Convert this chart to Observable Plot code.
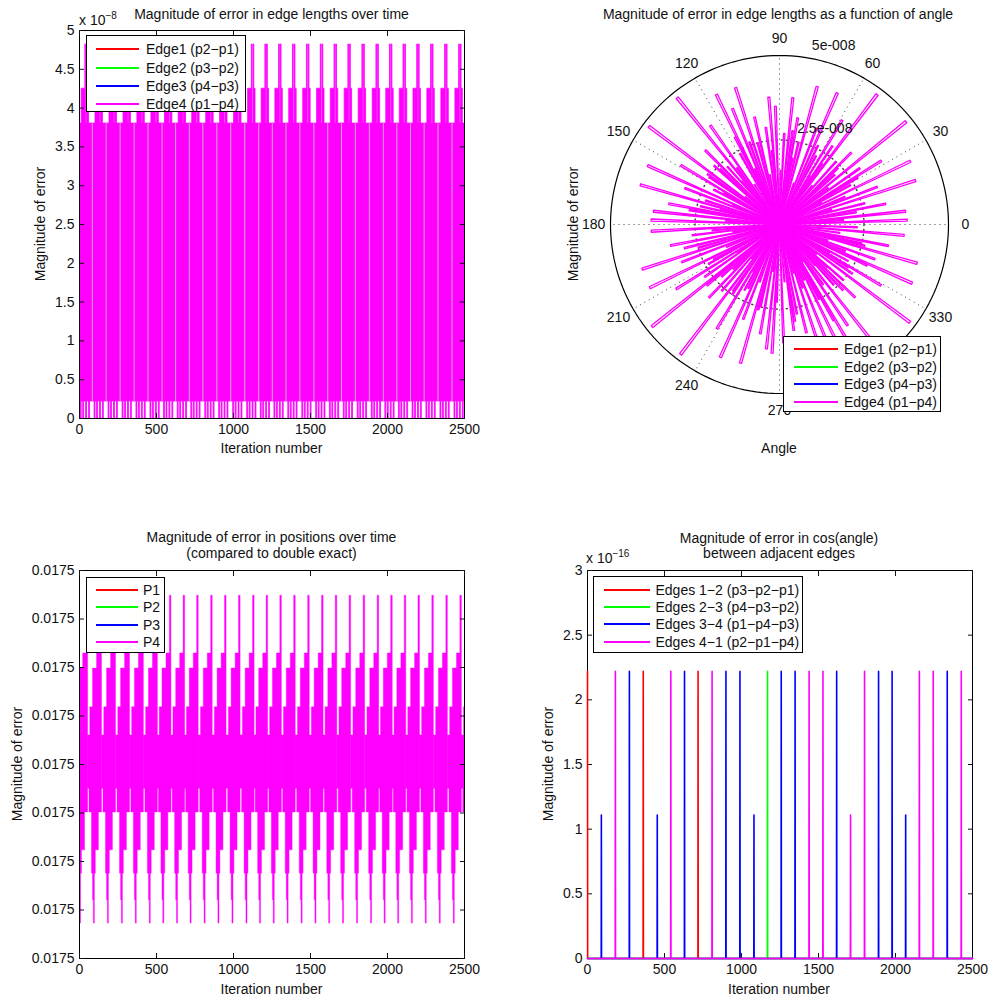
<!DOCTYPE html>
<html>
<head>
<meta charset="utf-8">
<script src="https://cdn.jsdelivr.net/npm/d3@7"></script>
<script src="https://cdn.jsdelivr.net/npm/@observablehq/plot@0.6"></script>
<style>
  body { margin: 0; background: #fff; }
  #fig { position: relative; width: 990px; height: 1000px; font-family: "Liberation Sans", Arial, Helvetica, sans-serif; color: #111; overflow: hidden; }
  .panel { position: absolute; }
  .lab { position: absolute; font-size: 14px; white-space: nowrap; line-height: 1; transform: translate(-50%, -50%); }
  .ylab { transform: translate(-50%, -50%) rotate(-90deg); }
  .abs { position: absolute; font-size: 14px; white-space: nowrap; line-height: 1; }
  .abs sup { font-size: 10px; vertical-align: 6px; }
  .legend { position: absolute; border: 1px solid #000; background: #fff; box-sizing: border-box; }
  .legend .txt { position: absolute; font-size: 14px; white-space: nowrap; line-height: 1; transform: translateY(-50%); }
  .legend .sw { position: absolute; height: 2px; }
</style>
</head>
<body>
<div id="fig"></div>
<script>
// ---------- data ----------
const xTicks = [0, 500, 1000, 1500, 2000, 2500];

// Iterations where a new quarter-turn cycle of the square begins
const cycleStart = [0, 90, 181, 272, 362, 453, 541, 630, 718, 809, 899, 990, 1081, 1169, 1258, 1348, 1439, 1529, 1618, 1708, 1799, 1890, 1978, 2066, 2155, 2245, 2336, 2427];

// Edge-length error within one cycle: offset from cycle start, lowest and highest error
const edgeCycleLength = 91;
const edgeSegStart = [0, 8, 14, 24, 30, 38, 43, 49, 54, 62, 68];
const edgeSegLow   = [0.22e-8, 0, 0.22e-8, 0, 0.22e-8, 0.22e-8, 0, 0.22e-8, 0.22e-8, 0, 0.22e-8];
const edgeSegHigh  = [3.8e-8, 3.8e-8, 4.25e-8, 4.25e-8, 4.25e-8, 4.82e-8, 3.8e-8, 4.82e-8, 4.25e-8, 3.8e-8, 3.8e-8];
const edge2ShowOffset = 83;      // where Edge2 shows through Edge4 in each cycle
const edgeYTicks = [0, 0.5, 1, 1.5, 2, 2.5, 3, 3.5, 4, 4.5, 5];   // x 1e-8

// Polar view: angle of the edge (degrees) and error magnitude at that angle
const polarAngle = [
  2, 6, 11, 14, 17.9, 21, 25.8, 29, 32, 35, 39.1, 42, 45, 48, 53.1, 56, 59, 62, 66.3, 69, 74.7, 77, 80.3, 84, 87,
  92, 94.8, 98, 103.1, 107.8, 110, 112.1, 115.9, 119, 124.9, 128.9, 132, 135, 138, 143.1, 146, 149, 152, 155.9, 159, 164.1, 167, 169.4, 174, 178,
  183, 187, 190.9, 194, 198, 201, 206, 209, 212, 215, 218.7, 222, 226, 229, 232.7, 236, 239, 242, 246, 249, 254.3, 257, 260, 264, 266.7,
  272, 277.7, 281, 284, 288, 292, 296, 299.5, 300.3, 304, 308.4, 312, 316, 319, 323.1, 326, 329, 332, 335, 336.1, 340, 344.3, 347, 349, 355,
  4, 9, 16, 23, 27, 31, 37, 44, 50, 55, 58, 64, 71, 79, 82, 89, 96, 101, 105, 114, 117, 122, 127, 131, 137, 141, 145, 151, 157, 162, 166, 171,
  176, 185, 189, 196, 203, 208, 214, 220, 224, 231, 235, 241, 244, 251, 256, 262, 268, 275, 279, 286, 290, 294, 298, 302, 306, 311, 314, 318,
  321, 328, 331, 338, 342, 346, 352, 358
];
const polarError = [
  3.78, 3.75, 3.2, 2.6, 4.23, 3.1, 4.3, 2.4, 3.55, 2.9, 4.82, 2.2, 3.0, 2.5, 4.81, 2.8, 3.6, 2.3, 4.25, 3.05, 4.23, 2.5, 3.2, 3.77, 2.7,
  3.5, 3.78, 2.9, 3.26, 4.25, 2.6, 3.7, 4.27, 2.4, 3.57, 4.82, 2.3, 3.1, 2.6, 4.83, 2.5, 3.4, 2.2, 4.27, 3.0, 4.28, 2.4, 3.33, 3.75, 3.8,
  3.8, 2.6, 3.28, 2.9, 4.27, 3.1, 4.27, 2.4, 3.6, 2.7, 4.83, 2.3, 3.0, 2.6, 4.83, 2.5, 3.6, 2.2, 4.3, 3.0, 4.26, 2.5, 3.28, 3.7, 3.81,
  3.5, 3.16, 2.7, 3.3, 4.25, 3.6, 4.27, 3.26, 3.97, 3.6, 4.82, 2.4, 3.1, 2.5, 4.82, 2.6, 3.5, 2.3, 2.86, 4.29, 3.0, 4.23, 2.5, 3.28, 3.7,
  1.9, 2.3, 1.6, 2.1, 1.4, 2.7, 1.8, 2.4, 1.5, 2.2, 1.7, 2.6, 1.3, 2.0, 2.8, 1.6, 2.2, 1.5, 2.5, 1.8, 2.9, 1.4, 2.1, 1.7, 2.4, 1.3, 2.6, 1.9, 1.5, 2.3, 1.8, 2.7,
  1.6, 2.0, 1.4, 2.5, 1.7, 2.2, 1.5, 2.8, 1.9, 1.3, 2.4, 1.6, 2.1, 1.8, 2.6, 1.4, 2.3, 1.7, 2.9, 1.5, 2.0, 1.8, 2.5, 1.3, 2.2, 1.6, 2.7, 1.9, 1.4, 2.4,
  1.7, 2.1, 1.5, 2.6, 1.8, 2.3, 1.4, 2.0
].map(v => v * 1e-8);
const polarRings = [2.5e-8, 5e-8];
const polarRingLabels = ["2.5e-008", "5e-008"];
const polarSpokes = [0, 30, 60, 90, 120, 150, 180, 210, 240, 270, 300, 330];
const polarAngleLabels = [0, 30, 60, 90, 120, 150, 180, 210, 240, 270, 330];   // 300 sits under the legend

// Position error (compared to double exact): one sawtooth cycle
const posCycleStart = [-36, 54, 145, 236, 326, 417, 505, 594, 682, 773, 863, 954, 1045, 1133, 1222, 1312, 1403, 1493, 1582, 1672, 1763, 1854, 1942, 2030, 2119, 2209, 2300, 2391, 2481];
const posCyclePeak = [
  0.01750229, 0.01750229, 0.01750229, 0.01750229, 0.01750229, 0.01750229,
  0.01750348, 0.01750348, 0.01750348, 0.01750348, 0.01750348, 0.01750348, 0.01750348, 0.01750348,
  0.01750348, 0.01750348, 0.01750348, 0.01750348, 0.01750348, 0.01750348, 0.01750348, 0.01750348,
  0.01750348, 0.01750348, 0.01750348, 0.01750348, 0.01750348, 0.01750348, 0.01750348
];
const posCycleLength = 92;
const posSegStart = [0, 11, 16, 27, 34, 39, 46, 52, 60, 72, 82];
const posSegLow   = [0.0174995, 0.01749901, 0.01749901, 0.01749775, 0.0174972, 0.01749672, 0.01749775, 0.01749823, 0.01749823, 0.01749901, 0.01749901];
const posSegHigh  = [0.0175006, 0.0175006, 0.01750118, 0.01750118, 0.01750198, 0.01750198, 0.01750198, 0.01750198, 0.01750229, 0.01750229, null]; // last = cycle peak
const posYTicks = [0.017496, 0.017497, 0.017498, 0.017499, 0.0175, 0.017501, 0.017502, 0.017503, 0.017504];

// cos(angle) error spikes: iteration and magnitude, per pair of adjacent edges
const cos12Iter = [0, 362, 718];
const cos12Err  = [2.22e-16, 2.22e-16, 2.22e-16];
const cos23Iter = [1169];
const cos23Err  = [2.22e-16];
const cos34Iter = [90, 272, 453, 630, 899, 990, 1081, 1258, 1348, 1618, 1890, 1978, 2066, 2336];
const cos34Err  = [1.11e-16, 2.22e-16, 1.11e-16, 2.22e-16, 2.22e-16, 2.22e-16, 1.11e-16, 2.22e-16, 2.22e-16, 2.22e-16, 2.22e-16, 2.22e-16, 1.11e-16, 2.22e-16];
const cos41Iter = [181, 541, 809, 1439, 1529, 1708, 1799, 2155, 2245, 2427];
const cos41Err  = [2.22e-16, 2.22e-16, 2.22e-16, 2.22e-16, 2.22e-16, 1.11e-16, 2.22e-16, 2.22e-16, 2.22e-16, 2.22e-16];
const cosYTicks = [0, 0.5, 1, 1.5, 2, 2.5, 3];   // x 1e-16

const seriesColors = ["#ff0000", "#00ff00", "#0000ff", "#ff00ff"];
const edgeNames = ["Edge1 (p2\u2212p1)", "Edge2 (p3\u2212p2)", "Edge3 (p4\u2212p3)", "Edge4 (p1\u2212p4)"];
const pointNames = ["P1", "P2", "P3", "P4"];
const cosNames = ["Edges 1\u22122 (p3\u2212p2\u2212p1)", "Edges 2\u22123 (p4\u2212p3\u2212p2)", "Edges 3\u22124 (p1\u2212p4\u2212p3)", "Edges 4\u22121 (p2\u2212p1\u2212p4)"];

// ---------- helpers ----------
const fig = document.getElementById("fig");
const FONT = '"Liberation Sans", Arial, Helvetica, sans-serif';
const style = {fontFamily: FONT, fontSize: "14px", color: "#111", background: "transparent", overflow: "visible"};

function place(svg, left, top) {
  svg.classList.add("panel");
  svg.style.left = left + "px";
  svg.style.top = top + "px";
  fig.appendChild(svg);
}
function label(text, x, y, rotate) {
  const d = document.createElement("div");
  d.className = rotate ? "lab ylab" : "lab";
  d.style.left = x + "px"; d.style.top = y + "px";
  d.textContent = text;
  fig.appendChild(d);
}
function exponent(html, x, y) {
  const d = document.createElement("div");
  d.className = "abs";
  d.style.left = x + "px"; d.style.top = y + "px";
  d.innerHTML = html;
  fig.appendChild(d);
}
function legend(box, rows, swatch, textX, names) {
  const d = document.createElement("div");
  d.className = "legend";
  Object.assign(d.style, {left: box[0] + "px", top: box[1] + "px", width: box[2] + "px", height: box[3] + "px"});
  names.forEach((n, i) => {
    const s = document.createElement("div");
    s.className = "sw";
    Object.assign(s.style, {left: swatch[0] + "px", width: (swatch[1] - swatch[0]) + "px", top: (rows[i] - 1) + "px", backgroundColor: seriesColors[i]});
    d.appendChild(s);
    const t = document.createElement("div");
    t.className = "txt";
    Object.assign(t.style, {left: textX + "px", top: rows[i] + "px"});
    t.textContent = n;
    d.appendChild(t);
  });
  fig.appendChild(d);
}
function boxAxes(yTicks, yFmt) {
  return [
    Plot.frame({stroke: "#000", strokeWidth: 1}),
    Plot.axisX(xTicks, {anchor: "bottom", tickSize: 0, tickPadding: 6, tickFormat: d3.format("d"), label: null}),
    Plot.axisX(xTicks, {anchor: "bottom", tickSize: -5, fill: "none", label: null}),
    Plot.axisX(xTicks, {anchor: "top", tickSize: -5, fill: "none", label: null}),
    Plot.axisY(yTicks, {anchor: "left", tickSize: 0, tickPadding: 5, tickFormat: yFmt, label: null}),
    Plot.axisY(yTicks, {anchor: "left", tickSize: -5, fill: "none", label: null}),
    Plot.axisY(yTicks, {anchor: "right", tickSize: -5, fill: "none", label: null})
  ];
}
// step band of a repeated cycle profile
function cycleBand(starts, segStart, cycleLen, lowOf, highOf) {
  return starts.flatMap((c, k) => {
    const pts = segStart.map((s, j) => ({it: c + s, lo: lowOf(j, k), hi: highOf(j, k), k}));
    const last = segStart.length - 1;
    pts.push({it: c + cycleLen, lo: lowOf(last, k), hi: highOf(last, k), k});
    return pts;
  });
}
function spikeSeries(iters, errs) {
  const pts = [];
  if (iters[0] !== 0) pts.push({it: 0, e: 0});
  iters.forEach((it, i) => {
    if (it > 0) pts.push({it: it - 1, e: 0});
    pts.push({it, e: errs[i]});
    pts.push({it: it + 1, e: 0});
  });
  pts.push({it: 2500, e: 0});
  return pts;
}

// ---------- top left: edge length error over time ----------
const edgeBand = cycleBand(cycleStart, edgeSegStart, edgeCycleLength, j => edgeSegLow[j], j => edgeSegHigh[j]);
const edge2Show = cycleStart.map(c => ({it: c + edge2ShowOffset}));
place(Plot.plot({
  width: 495, height: 500,
  marginLeft: 79, marginRight: 31, marginTop: 30, marginBottom: 82,
  x: {domain: [0, 2500]},
  y: {domain: [0, 5e-8]},
  style,
  marks: [
    Plot.areaY(edgeBand, {x: "it", y1: "lo", y2: "hi", z: "k", curve: "step-after", fill: "#ff00ff", stroke: "#ff00ff", strokeWidth: 0.8, clip: true}),
    Plot.ruleX(edge2Show, {x: "it", y1: 0.22e-8, y2: 3.8e-8, stroke: "#cdb8cd", strokeWidth: 0.9, clip: true}),
    ...boxAxes(edgeYTicks.map(v => v * 1e-8), d => String(+(d / 1e-8).toFixed(1)))
  ]
}), 0, 0);
label("Magnitude of error in edge lengths over time", 271.5, 14);
label("Magnitude of error", 40, 224, true);
label("Iteration number", 271.5, 448);
exponent("x 10<sup>\u22128</sup>", 79, 11);
legend([86, 35, 160, 77], [13, 31.5, 50, 68], [9, 52], 59, edgeNames);

// ---------- top right: polar plot of edge length error ----------
const rad = a => a * Math.PI / 180;
const spikePts = polarAngle.flatMap((a, i) => {
  const r = polarError[i];
  return [
    {x: 0, y: 0, k: i},
    {x: r * Math.cos(rad(a - 0.45)), y: r * Math.sin(rad(a - 0.45)), k: i},
    {x: r * Math.cos(rad(a + 0.45)), y: r * Math.sin(rad(a + 0.45)), k: i},
    {x: 0, y: 0, k: i}
  ];
});
const R = polarRings[1];
const ringPts = polarRings.flatMap((r, k) => d3.range(0, 361, 2).map(a => ({x: r * Math.cos(rad(a)), y: r * Math.sin(rad(a)), k})));
const spokes = polarSpokes.map(a => ({x2: R * Math.cos(rad(a)), y2: R * Math.sin(rad(a)), a}));
place(Plot.plot({
  width: 495, height: 500,
  marginLeft: 115, marginRight: 42, marginTop: 55, marginBottom: 107,
  x: {domain: [-R, R], axis: null},
  y: {domain: [-R, R], axis: null},
  style,
  marks: [
    Plot.link(spokes, {x1: 0, y1: 0, x2: "x2", y2: "y2", stroke: "#444", strokeWidth: 1, strokeDasharray: "1,4"}),
    Plot.line(ringPts.filter(d => d.k === 0), {x: "x", y: "y", stroke: "#444", strokeDasharray: "1,4"}),
    Plot.line(spikePts, {x: "x", y: "y", z: "k", stroke: "#ff00ff", strokeWidth: 1.3}),
    Plot.line(ringPts.filter(d => d.k === 1), {x: "x", y: "y", stroke: "#000", strokeWidth: 1.2}),
    Plot.text(polarAngleLabels, {x: a => 1.1 * R * Math.cos(rad(a)), y: a => 1.1 * R * Math.sin(rad(a)), text: a => String(a), fill: "#111"}),
    Plot.text(polarRings, {x: r => r * Math.cos(rad(80)), y: r => r * Math.sin(rad(80)), text: (r, i) => polarRingLabels[i], textAnchor: "start", dx: 3, dy: -13, fill: "#111"})
  ]
}), 495, 0);
label("Magnitude of error in edge lengths as a function of angle", 778, 14);
label("Magnitude of error", 573, 224, true);
label("Angle", 779, 448);
legend([783, 336, 158, 76], [11.5, 29.5, 47, 65], [10, 54], 60, edgeNames);

// ---------- bottom left: position error over time ----------
const posBand = cycleBand(posCycleStart, posSegStart, posCycleLength,
  j => posSegLow[j],
  (j, k) => posSegHigh[j] === null ? posCyclePeak[k] : posSegHigh[j]);
place(Plot.plot({
  width: 495, height: 500,
  marginLeft: 79, marginRight: 31, marginTop: 70, marginBottom: 42,
  x: {domain: [0, 2500]},
  y: {domain: [0.017496, 0.017504]},
  style,
  marks: [
    Plot.areaY(posBand, {x: "it", y1: "lo", y2: "hi", z: "k", curve: "step-after", fill: "#ff00ff", stroke: "#ff00ff", strokeWidth: 0.4, clip: true}),
    ...boxAxes(posYTicks, d3.format(".3g"))
  ]
}), 0, 500);
label("Magnitude of error in positions over time", 271.5, 537);
label("(compared to double exact)", 271.5, 553);
label("Magnitude of error", 17, 764, true);
label("Iteration number", 271.5, 989);
legend([86, 577, 79, 76], [11.5, 29, 46.5, 64], [9, 51], 56, pointNames);

// ---------- bottom right: cos(angle) error ----------
const cosSeries = [[cos12Iter, cos12Err], [cos23Iter, cos23Err], [cos34Iter, cos34Err], [cos41Iter, cos41Err]];
place(Plot.plot({
  width: 495, height: 500,
  marginLeft: 92, marginRight: 18, marginTop: 70, marginBottom: 42,
  x: {domain: [0, 2500]},
  y: {domain: [0, 3e-16]},
  style,
  marks: [
    ...boxAxes(cosYTicks.map(v => v * 1e-16), d => String(+(d / 1e-16).toFixed(1))),
    ...cosSeries.map(([it, e], i) => Plot.line(spikeSeries(it, e), {
      x: "it", y: "e", stroke: seriesColors[i], strokeWidth: 1.6
    }))
  ]
}), 495, 500);
label("Magnitude of error in cos(angle)", 779, 538);
label("between adjacent edges", 779, 553);
label("Magnitude of error", 548, 764, true);
label("Iteration number", 779, 989);
exponent("x 10<sup>\u221216</sup>", 586, 549);
legend([593, 576, 210, 77], [12.5, 30, 47, 65], [10, 55.5], 61.5, cosNames);
</script>
</body>
</html>
